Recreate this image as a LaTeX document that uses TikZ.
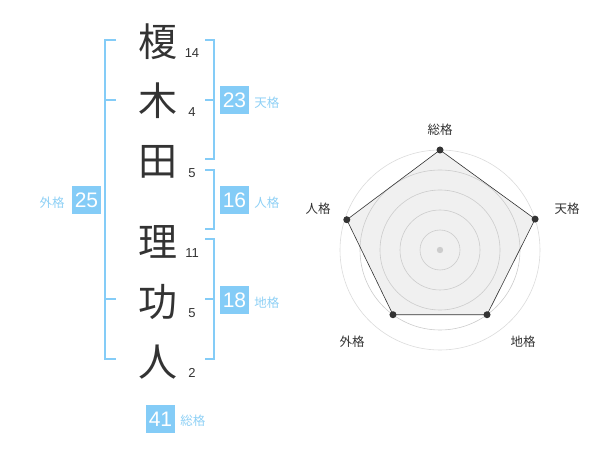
\documentclass[tikz,border=0pt]{standalone}
\usepackage{fontspec}
\setmainfont{Liberation Sans}
\newfontfamily\jpfont{Noto Sans CJK JP}
\usetikzlibrary{positioning}
\definecolor{kakublue}{HTML}{84CCF7}
\definecolor{kakutext}{HTML}{8ED0F5}
\definecolor{ink1}{HTML}{333333}
\definecolor{ringgray}{HTML}{CCCCCC}
\definecolor{areagray}{HTML}{F0F0F0}

\begin{document}
\begin{tikzpicture}[
  x=1pt, y=-1pt,
  kanji/.style={font=\jpfont\fontsize{39}{39}\selectfont, text=ink1, inner sep=0pt},
  strk/.style={font=\fontsize{13}{13}\selectfont, text=ink1, inner sep=0pt},
  kbox/.style={fill=kakublue, text=white, font=\fontsize{21}{21}\selectfont,
               minimum width=29pt, minimum height=28pt, inner sep=0pt},
  klab/.style={font=\jpfont\fontsize{12.5}{12.5}\selectfont, text=kakutext, inner sep=0pt},
  brk/.style={draw=kakublue, line width=1.8pt},
  ring/.style={draw=ringgray, line width=0.6pt},
  area/.style={fill=areagray},
  edge/.style={draw=ink1, line width=0.6pt},
  rlab/.style={font=\jpfont\fontsize{12.5}{12.5}\selectfont, text=ink1, inner sep=0pt}
]
\useasboundingbox (0,0) rectangle (600,470);

% ===== name column =====
\foreach \ch/\st/\yy [count=\i] in {榎/14/42, 木/4/101, 田/5/162, 理/11/242, 功/5/302, 人/2/362} {
  \node[kanji] (c\i) at (158,\yy) {\ch};
  \node[strk] (n\i) at (192,{\yy+11}) {\st};
}

% ===== brackets =====
\draw[brk] (116,40) -- (105,40) -- (105,359) -- (116,359);
\draw[brk] (105,100) -- (116,100);
\draw[brk] (105,299) -- (116,299);
\draw[brk] (205,40) -- (214,40) -- (214,159) -- (205,159);
\draw[brk] (205,100) -- (214,100);
\draw[brk] (205,170) -- (214,170) -- (214,229) -- (205,229);
\draw[brk] (205,239) -- (214,239) -- (214,359) -- (205,359);
\draw[brk] (205,299) -- (214,299);

% ===== totals =====
\node[kbox] (gai) at (86.5,200.5) {25};
\node[klab, left=7pt of gai, yshift=-2pt] (lgai) {外格};
\node[kbox] (ten) at (234.5,100.5) {23};
\node[klab, right=5pt of ten, yshift=-2pt] (lten) {天格};
\node[kbox] (jin) at (234.5,200.5) {16};
\node[klab, right=5pt of jin, yshift=-2pt] (ljin) {人格};
\node[kbox] (chi) at (234.5,300.5) {18};
\node[klab, right=5pt of chi, yshift=-2pt] (lchi) {地格};
\node[kbox] (sou) at (160.5,419) {41};
\node[klab, right=5pt of sou, yshift=-2pt] (lsou) {総格};

% ===== radar =====
\begin{scope}[shift={(440,250)}]
  \foreach \nm/\a/\r in {sou/-90/100, ten/-18/100, chi/54/80, gai/126/80, jin/-162/98}
    \coordinate (p\nm) at (\a:\r);
  \fill[area] (psou) -- (pten) -- (pchi) -- (pgai) -- (pjin) -- cycle;
  \foreach \r in {20,40,60,80} \draw[ring] (0,0) circle (\r);
  \draw[ring, draw=ringgray!70] (0,0) circle (100);
  \fill[ringgray] (0,0) circle (3.2);
  \draw[edge] (psou) -- (pten) -- (pchi) -- (pgai) -- (pjin) -- cycle;
  \foreach \nm in {sou,ten,chi,gai,jin} \fill[ink1] (p\nm) circle (3.5);
  \node[rlab] (rsou) at (0,-120) {総格};
  \node[rlab] (rten) at (127,-41) {天格};
  \node[rlab] (rchi) at (83,92) {地格};
  \node[rlab] (rgai) at (-88,92) {外格};
  \node[rlab] (rjin) at (-122,-41) {人格};
\end{scope}
\end{tikzpicture}
\end{document}
